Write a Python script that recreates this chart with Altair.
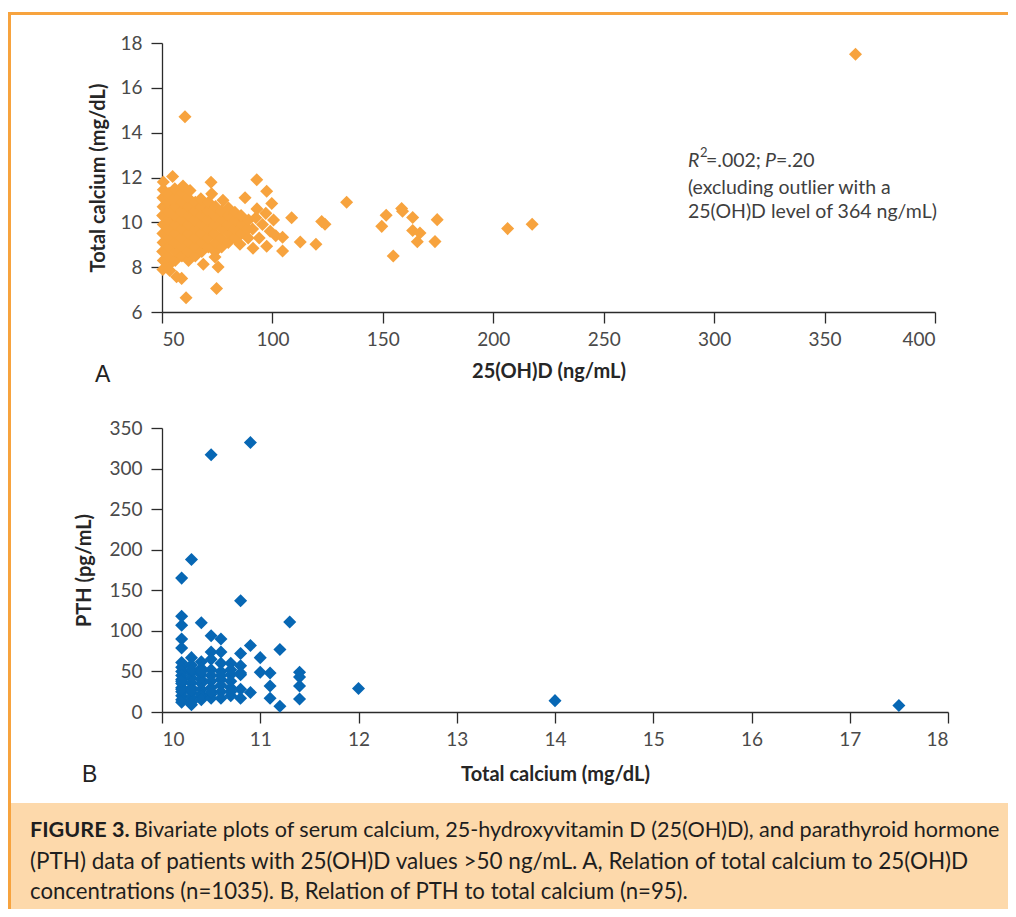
import altair as alt
import pandas as pd

# ---------------- Panel A: total calcium vs 25(OH)D ----------------
a_vitd_core = [
    50.4, 50.6, 50.3, 50.5, 50.4, 50.6, 50.3, 50.5, 50.4, 50.6, 50.6,
    53.1, 52.8, 53.2, 53.0, 52.9, 53.1, 53.0, 52.8, 53.2, 54.8, 53.5,
    56.0, 56.2, 55.8, 56.1, 56.0, 55.9, 56.2, 56.0, 55.8, 56.6,
    59.0, 59.2, 58.8, 59.1, 59.0, 58.9, 59.2, 59.0, 58.9, 59.5,
    62.0, 61.8, 62.2, 62.0, 61.9, 62.1, 62.0, 61.8, 62.7,
    65.1, 64.9, 65.0, 65.2, 64.8, 65.0, 65.1,
    68.0, 68.2, 67.9, 68.1, 68.0, 67.8, 67.6, 68.7,
    71.0, 70.8, 71.2, 71.0, 70.9, 71.1, 72.2, 72.5,
    74.0, 74.2, 73.8, 74.1, 74.0, 74.2, 74.0, 75.4, 74.7,
    77.0, 76.8, 77.2, 77.0, 76.9, 77.6,
    80.0, 80.2, 79.8, 80.1, 80.0,
    83.0, 82.8, 83.2, 83.0,
    86.0, 86.2, 85.8, 85.3,
    89.0, 88.8, 89.2, 87.6,
]
a_calcium_core = [
    7.9, 8.3, 8.7, 9.1, 9.5, 9.9, 10.3, 10.7, 11.1, 11.45, 11.8,
    8.1, 8.5, 8.9, 9.3, 9.7, 10.1, 10.5, 10.9, 11.3, 12.04, 7.85,
    8.3, 8.7, 9.1, 9.5, 9.9, 10.3, 10.7, 11.1, 11.5, 7.57,
    8.5, 8.9, 9.3, 9.7, 10.1, 10.5, 10.9, 11.3, 7.5, 11.62,
    8.3, 8.7, 9.1, 9.5, 9.9, 10.3, 10.7, 11.1, 11.42,
    8.5, 8.9, 9.3, 9.7, 10.1, 10.5, 10.9,
    8.7, 9.1, 9.5, 9.9, 10.3, 10.7, 11.05, 8.13,
    8.9, 9.3, 9.7, 10.1, 10.5, 10.9, 11.79, 11.27,
    8.7, 9.1, 9.5, 9.9, 10.3, 10.7, 8.45, 8.01, 7.05,
    8.9, 9.3, 9.7, 10.1, 10.5, 10.98,
    9.1, 9.5, 9.9, 10.3, 10.65,
    9.3, 9.7, 10.1, 10.45,
    9.5, 9.9, 10.3, 9.02,
    9.3, 9.7, 10.1, 11.1,
]
a_vitd_tail = [
    91.2, 91.0, 92.5, 93.0, 94.0, 95.5, 97.4, 97.0, 99.0, 99.7, 100.5, 101.5,
    92.9, 97.4, 104.6, 104.6, 108.7, 112.6, 119.7, 122.3, 123.8, 133.6,
    149.5, 151.5, 154.7, 158.5, 158.9, 163.5, 163.5, 166.8, 165.6, 173.6, 174.6,
    206.5, 217.6, 60.4, 60.9, 364.0,
]
a_calcium_tail = [
    8.84, 9.7, 10.2, 10.6, 9.3, 9.9, 8.93, 10.4, 9.6, 10.84, 10.1, 9.4,
    11.9, 11.39, 9.33, 8.72, 10.2, 9.12, 9.02, 10.04, 9.91, 10.9,
    9.82, 10.32, 8.5, 10.62, 10.5, 10.22, 9.64, 9.52, 9.13, 9.14, 10.12,
    9.72, 9.91, 14.71, 6.64, 17.5,
]

# ---------------- Panel B: PTH vs total calcium ----------------
b_calcium = [
    10.2, 10.2, 10.2, 10.2, 10.2, 10.2, 10.2, 10.2, 10.2, 10.2, 10.2, 10.2, 10.2, 10.2, 10.2, 10.2, 10.2, 10.2,
    10.3, 10.3, 10.3, 10.3, 10.3, 10.3, 10.3, 10.3, 10.3, 10.3, 10.3, 10.3, 10.3,
    10.4, 10.4, 10.4, 10.4, 10.4, 10.4, 10.4, 10.4, 10.4, 10.4, 10.4,
    10.5, 10.5, 10.5, 10.5, 10.5, 10.5, 10.5, 10.5, 10.5, 10.5, 10.5,
    10.6, 10.6, 10.6, 10.6, 10.6, 10.6, 10.6, 10.6, 10.6,
    10.7, 10.7, 10.7, 10.7, 10.7, 10.7, 10.7,
    10.8, 10.8, 10.8, 10.8, 10.8, 10.8, 10.8,
    10.9, 10.9, 10.9,
    11.0, 11.0,
    11.1, 11.1, 11.1,
    11.2, 11.2,
    11.3,
    11.4, 11.4, 11.4, 11.4,
    12.0, 14.0, 17.5,
]
b_pth = [
    165, 118, 107, 90, 79, 61, 55, 50, 45, 40, 35, 30, 25, 20, 15, 12, 28, 38,
    188, 67, 58, 48, 42, 36, 30, 24, 18, 12, 9, 52, 27,
    110, 62, 54, 46, 40, 35, 28, 22, 19, 15, 50,
    317, 94, 74, 65, 52, 45, 38, 30, 22, 17, 25,
    90, 74, 60, 50, 40, 33, 25, 17, 45,
    60, 46, 38, 30, 20, 25, 52,
    137, 72, 57, 46, 28, 17, 48,
    332, 82, 24,
    67, 49,
    48, 32, 17,
    77, 7,
    111,
    49, 43, 32, 16,
    29, 14, 8,
]

a_ticks_x = [50, 100, 150, 200, 250, 300, 350, 400]
a_ticks_y = [6, 8, 10, 12, 14, 16, 18]
b_ticks_x = [10, 11, 12, 13, 14, 15, 16, 17, 18]
b_ticks_y = [0, 50, 100, 150, 200, 250, 300, 350]

caption_bold = "FIGURE 3."
caption_lines = [
    "Bivariate plots of serum calcium, 25-hydroxyvitamin D (25(OH)D), and parathyroid hormone",
    "(PTH) data of patients with 25(OH)D values >50 ng/mL. A, Relation of total calcium to 25(OH)D",
    "concentrations (n=1035). B, Relation of PTH to total calcium (n=95).",
]

W, H = 1000, 901
ORANGE = "#f7a33e"
BLUE = "#0767b4"
PEACH = "#fdd9ab"
BORDER = "#f7a33e"
FONT = "Lato"

df_a = pd.DataFrame({"vitd": a_vitd_core + a_vitd_tail, "calcium": a_calcium_core + a_calcium_tail})
df_b = pd.DataFrame({"calcium": b_calcium, "pth": b_pth})
one = pd.DataFrame({"k": [0]})


def txt(text, x, y, size=19.5, weight="normal", style="normal", font=FONT, color="#3f3f3f",
        align="left", baseline="middle"):
    return alt.Chart(one).mark_text(
        text=text, fontSize=size, fontWeight=weight, fontStyle=style, font=font,
        color=color, align=align, baseline=baseline
    ).encode(x=alt.value(x), y=alt.value(y))


caption_bg = alt.Chart(one).mark_rect(color=PEACH).encode(
    x=alt.value(0), x2=alt.value(W), y=alt.value(795), y2=alt.value(H)
)
border_top = alt.Chart(one).mark_rule(color=BORDER, strokeWidth=3).encode(
    x=alt.value(0), x2=alt.value(W), y=alt.value(5.5)
)
border_left = alt.Chart(one).mark_rule(color=BORDER, strokeWidth=3).encode(
    x=alt.value(1.5), y=alt.value(4), y2=alt.value(H)
)

x_axis_common = dict(labelPadding=7)
y_axis_common = dict(labelPadding=9)

panel_a = alt.Chart(df_a).mark_point(shape="diamond", filled=True, size=170, color=ORANGE, opacity=1).encode(
    x=alt.X("vitd:Q",
            scale=alt.Scale(domain=[50, 400], range=[154, 927], nice=False, zero=False),
            axis=alt.Axis(values=a_ticks_x, orient="bottom", offset=304 - H,
                          title="25(OH)D (ng/mL)", titlePadding=12, **x_axis_common)),
    y=alt.Y("calcium:Q",
            scale=alt.Scale(domain=[6, 18], range=[304, 35], nice=False, zero=False),
            axis=alt.Axis(values=a_ticks_y, orient="left", offset=-154,
                          title="Total calcium (mg/dL)", titlePadding=11, **y_axis_common)),
)

panel_b = alt.Chart(df_b).mark_point(shape="diamond", filled=True, size=170, color=BLUE, opacity=1).encode(
    x=alt.X("calcium:Q",
            scale=alt.Scale(domain=[10, 18], range=[154, 940], nice=False, zero=False),
            axis=alt.Axis(values=b_ticks_x, orient="bottom", offset=704 - H,
                          title="Total calcium (mg/dL)", titlePadding=15, **x_axis_common)),
    y=alt.Y("pth:Q",
            scale=alt.Scale(domain=[0, 350], range=[704, 420], nice=False, zero=False),
            axis=alt.Axis(values=b_ticks_y, orient="left", offset=-154,
                          title="PTH (pg/mL)", titlePadding=14, **y_axis_common)),
)

texts = [
    txt("R", 680, 153, style="italic"),
    txt("2", 692, 145, size=13),
    txt("=.002;", 698, 153),
    txt("P", 757, 153, style="italic"),
    txt("=.20", 768, 153),
    txt("(excluding outlier with a", 680, 180),
    txt("25(OH)D level of 364 ng/mL)", 680, 204),
    txt("A", 87, 367, size=23, font="Liberation Sans", color="#222222"),
    txt("B", 74, 767, size=23, font="Liberation Sans", color="#222222"),
    txt(caption_bold, 22, 823, size=21.6, weight="bold", color="#1e1e1e"),
    txt(caption_lines[0], 126, 823, size=21.6, color="#1e1e1e"),
    txt(caption_lines[1], 22, 854, size=22.5, color="#1e1e1e"),
    txt(caption_lines[2], 22, 884, size=22.2, color="#1e1e1e"),
]

chart = alt.layer(caption_bg, border_top, border_left, panel_a, panel_b, *texts).resolve_scale(
    x="independent", y="independent"
).properties(
    width=W, height=H, autosize=alt.AutoSizeParams(type="none"), padding=0
).configure_view(strokeWidth=0).configure_axis(
    grid=False, domainColor="#2b2b2b", tickColor="#2b2b2b", domainWidth=1.3, tickWidth=1.3,
    tickSize=11, labelFont=FONT, labelFontSize=19, labelColor="#4a4a4a",
    titleFont=FONT, titleFontSize=20, titleFontWeight="bold", titleColor="#262626"
)

chart.save("out.html", embed_options={"renderer": "svg", "actions": False})
